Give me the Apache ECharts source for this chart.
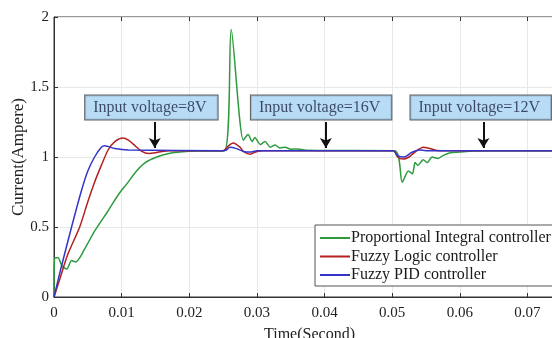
<!DOCTYPE html>
<html>
<head>
<meta charset="utf-8">
<script src="https://cdn.jsdelivr.net/npm/echarts@6/dist/echarts.min.js"></script>
<style>
  html, body { margin: 0; padding: 0; background: #fff; }
  #chart { width: 552px; height: 338px; }
</style>
</head>
<body>
<div id="chart"></div>
<script>
// Step response of the converter current for three controllers
const piTime = [0, 0.0001, 0.0006, 0.0012, 0.0019, 0.0026, 0.0032, 0.0038, 0.0045, 0.0053, 0.006, 0.0068, 0.0078, 0.0087, 0.0098, 0.0108, 0.0122, 0.0135, 0.0152, 0.017, 0.019, 0.021, 0.0252, 0.0262, 0.028, 0.0287, 0.0293, 0.0297, 0.0305, 0.0312, 0.032, 0.0327, 0.0334, 0.0342, 0.035, 0.036, 0.037, 0.039, 0.0504, 0.0515, 0.0524, 0.053, 0.0534, 0.0538, 0.0546, 0.0552, 0.0559, 0.0568, 0.0575, 0.0586, 0.06, 0.062, 0.065, 0.08];
const piCurrent = [0, 0.28, 0.28, 0.22, 0.2, 0.26, 0.25, 0.28, 0.34, 0.41, 0.47, 0.53, 0.6, 0.67, 0.75, 0.81, 0.9, 0.96, 1.0, 1.025, 1.037, 1.043, 1.045, 1.91, 1.12, 1.16, 1.11, 1.14, 1.09, 1.11, 1.07, 1.085, 1.065, 1.07, 1.055, 1.058, 1.05, 1.047, 1.045, 0.82, 0.9, 0.88, 0.96, 0.94, 0.98, 0.96, 1.0, 0.99, 1.01, 1.03, 1.035, 1.042, 1.045, 1.045];

const flcTime = [0, 0.001, 0.002, 0.0038, 0.005, 0.006, 0.007, 0.008, 0.009, 0.0102, 0.011, 0.012, 0.013, 0.014, 0.015, 0.016, 0.017, 0.025, 0.0258, 0.0265, 0.0275, 0.028, 0.029, 0.030, 0.031, 0.0502, 0.0508, 0.0516, 0.0525, 0.0535, 0.0546, 0.0556, 0.0566, 0.058, 0.08];
const flcCurrent = [0, 0.15, 0.3, 0.5, 0.68, 0.82, 0.94, 1.05, 1.11, 1.135, 1.12, 1.08, 1.04, 1.025, 1.03, 1.04, 1.045, 1.045, 1.08, 1.1, 1.07, 1.04, 1.02, 1.04, 1.045, 1.045, 1.0, 0.985, 1.0, 1.04, 1.07, 1.06, 1.047, 1.045, 1.045];

const fpidTime = [0, 0.001, 0.0026, 0.004, 0.005, 0.006, 0.007, 0.0075, 0.009, 0.011, 0.025, 0.0255, 0.026, 0.027, 0.028, 0.029, 0.030, 0.0502, 0.0508, 0.0518, 0.0528, 0.054, 0.055, 0.08];
const fpidCurrent = [0, 0.2, 0.5, 0.75, 0.9, 1.0, 1.07, 1.08, 1.06, 1.05, 1.045, 1.05, 1.07, 1.06, 1.04, 1.035, 1.045, 1.045, 1.01, 1.0, 1.03, 1.05, 1.045, 1.045];

// Input voltage annotations: box centre and arrow position
const noteText = ['Input voltage=8V', 'Input voltage=16V', 'Input voltage=12V'];
const noteBoxTime = [0.0144, 0.0395, 0.0631];
const noteBoxCurrent = [1.354, 1.354, 1.354];
const arrowTime = [0.0149, 0.0402, 0.0635];
const arrowTop = [1.25, 1.25, 1.25];
const arrowTip = [1.065, 1.065, 1.065];

const seriesNames = ['Proportional Integral controller', 'Fuzzy Logic controller', 'Fuzzy PID controller'];
const seriesColors = ['#2e9a3e', '#b3201f', '#3434c8'];

const pairs = (t, v) => t.map((x, i) => [x, v[i]]);
const serif = 'Liberation Serif';

const chart = echarts.init(document.getElementById('chart'));

const lineSeries = [
  pairs(piTime, piCurrent),
  pairs(flcTime, flcCurrent),
  pairs(fpidTime, fpidCurrent)
].map((d, i) => ({
  name: seriesNames[i],
  type: 'line',
  data: d,
  symbol: 'none',
  smooth: 0.25,
  lineStyle: { color: seriesColors[i], width: 1.5 },
  itemStyle: { color: seriesColors[i] },
  z: 3 + i
}));

chart.setOption({
  animation: false,
  backgroundColor: '#fff',
  grid: {
    left: 54, top: 17, bottom: 41, right: -43,
    outerBoundsMode: 'none',
    containLabel: false,
    show: true, borderColor: '#333', borderWidth: 1, backgroundColor: 'transparent'
  },
  legend: {
    orient: 'vertical',
    left: 315, top: 225,
    icon: 'rect',
    itemWidth: 30, itemHeight: 2, itemGap: 2.5,
    padding: [5, 8, 3, 5],
    backgroundColor: '#fff',
    borderColor: '#555', borderWidth: 1,
    data: seriesNames,
    textStyle: { fontFamily: serif, fontSize: 16, lineHeight: 16, color: '#1a1a1a', padding: [0, 0, 0, -4] }
  },
  xAxis: [{
    type: 'value', min: 0, max: 0.08, interval: 0.01,
    name: 'Time(Second)', nameLocation: 'middle', nameGap: 30,
    nameTextStyle: { fontFamily: serif, fontSize: 16, color: '#222', padding: [0, 0, 0, -30] },
    axisLine: { show: true, lineStyle: { color: '#333' } },
    axisTick: { show: true, inside: true, length: 4, lineStyle: { color: '#333' } },
    axisLabel: { fontFamily: serif, fontSize: 15, color: '#222', margin: 9,
      formatter: v => (v === 0 ? '0' : String(+v.toFixed(2))) },
    splitLine: { show: true, lineStyle: { color: '#e8e8e8' } }
  }, {
    type: 'value', position: 'top', min: 0, max: 0.08, interval: 0.01,
    axisLine: { show: false },
    axisTick: { show: true, inside: true, length: 4, lineStyle: { color: '#333' } },
    axisLabel: { show: false },
    splitLine: { show: false }
  }],
  yAxis: {
    type: 'value', min: 0, max: 2, interval: 0.5,
    name: 'Current(Ampere)', nameLocation: 'middle', nameGap: 27,
    nameMoveOverlap: false,
    nameTextStyle: { fontFamily: serif, fontSize: 17, color: '#222' },
    axisLine: { show: true, lineStyle: { color: '#333' } },
    axisTick: { show: true, inside: true, length: 4, lineStyle: { color: '#333' } },
    axisLabel: { fontFamily: serif, fontSize: 15, color: '#222', margin: 5 },
    splitLine: { show: true, lineStyle: { color: '#e8e8e8' } }
  },
  series: lineSeries.concat([{
    name: 'notes',
    type: 'scatter',
    data: noteText.map((s, i) => ({ value: [noteBoxTime[i], noteBoxCurrent[i]], name: s })),
    symbolSize: 1,
    itemStyle: { color: 'rgba(0,0,0,0)' },
    silent: true,
    z: 10,
    label: {
      show: true, position: 'inside',
      formatter: p => p.name,
      fontFamily: serif, fontSize: 16, color: '#1b2440',
      backgroundColor: '#a8d3f4', borderColor: '#3a3a3a', borderWidth: 1,
      padding: [5, 11, 3, 8]
    },
    markLine: {
      silent: true,
      symbol: ['none', 'arrow'],
      symbolSize: [9, 10],
      label: { show: false },
      lineStyle: { color: '#111', width: 2, type: 'solid' },
      data: arrowTime.map((t, i) => [
        { coord: [t, arrowTop[i]] },
        { coord: [t, arrowTip[i]] }
      ])
    }
  }])
});
</script>
</body>
</html>
